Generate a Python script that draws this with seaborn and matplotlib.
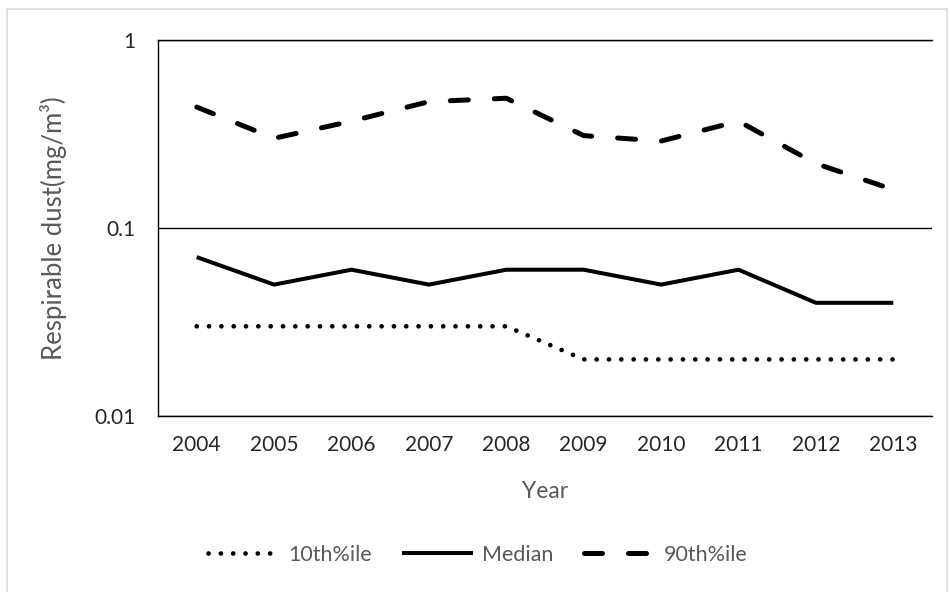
import matplotlib
matplotlib.use("Agg")
import matplotlib.pyplot as plt
import matplotlib.patches as mpatches
import seaborn as sns
import pandas as pd

years = ["2004", "2005", "2006", "2007", "2008", "2009", "2010", "2011", "2012", "2013"]
p10 = [0.03, 0.03, 0.03, 0.03, 0.03, 0.02, 0.02, 0.02, 0.02, 0.02]
median = [0.07, 0.05, 0.06, 0.05, 0.06, 0.06, 0.05, 0.06, 0.04, 0.04]
p90 = [0.44, 0.30, 0.37, 0.47, 0.49, 0.31, 0.29, 0.37, 0.22, 0.16]
series_names = ["10th%ile", "Median", "90th%ile"]

sns.set_theme(style="white")
plt.rcParams["font.family"] = ["Lato", "DejaVu Sans"]

fig = plt.figure(figsize=(9.5, 5.92), dpi=100)
ax = fig.add_axes([158 / 950, 1 - 416 / 592, 774 / 950, 376 / 592])

# light frame around the whole chart
fig.patches.append(mpatches.Rectangle((7 / 950, -0.01), 940 / 950, 1 - 9 / 592 + 0.01,
                                      transform=fig.transFigure, fill=False,
                                      edgecolor="#d9d9d9", linewidth=1.2))

pos = list(range(len(years)))
df = pd.DataFrame({"pos": pos * 3,
                   "value": p10 + median + p90,
                   "series": [series_names[0]] * 10 + [series_names[1]] * 10 + [series_names[2]] * 10})

styles = {
    "10th%ile": dict(linestyle=(0, (0.01, 2.6)), dash_capstyle="round", linewidth=3.4),
    "Median": dict(linestyle="-", linewidth=2.9, solid_capstyle="butt"),
    "90th%ile": dict(linestyle=(0, (3.6, 5.2)), dash_capstyle="round", linewidth=3.6),
}
for name in series_names:
    sub = df[df["series"] == name]
    sns.lineplot(data=sub, x="pos", y="value", ax=ax, color="black", label=name,
                 **styles[name])

ax.set_yscale("log")
ax.set_ylim(0.01, 1)
ax.set_xlim(-0.5, len(years) - 0.5)
ax.set_yticks([0.01, 0.1, 1])
ax.set_yticklabels(["0.01", "0.1", "1"])
ax.minorticks_off()
ax.set_xticks(pos)
ax.set_xticklabels(years)
ax.tick_params(axis="both", length=0, labelsize=15, labelcolor="#262626")
ax.tick_params(axis="y", pad=16)
ax.tick_params(axis="x", pad=14)

ax.yaxis.grid(True, color="black", linewidth=1.0)
ax.xaxis.grid(False)
for side in ["left", "bottom", "top"]:
    ax.spines[side].set_visible(True)
    ax.spines[side].set_color("black")
    ax.spines[side].set_linewidth(1.0)
ax.spines["right"].set_visible(False)

ax.set_xlabel("Year", fontsize=16.5, color="#595959")
ax.set_ylabel("Respirable dust(mg/m³)", fontsize=18.5, color="#595959")
ax.xaxis.set_label_coords(0.5, -0.172)
ax.yaxis.set_label_coords(-0.118, 0.5)

ax.legend_.remove()
handles, labels = ax.get_legend_handles_labels()
leg = fig.legend(handles, labels, loc="center", bbox_to_anchor=(0.503, 1 - 555 / 592),
                 ncol=3, frameon=False, fontsize=15.5, handlelength=3.3,
                 handletextpad=0.42, columnspacing=1.4)
for t in leg.get_texts():
    t.set_color("#595959")

fig.savefig("out.png", dpi=100)
